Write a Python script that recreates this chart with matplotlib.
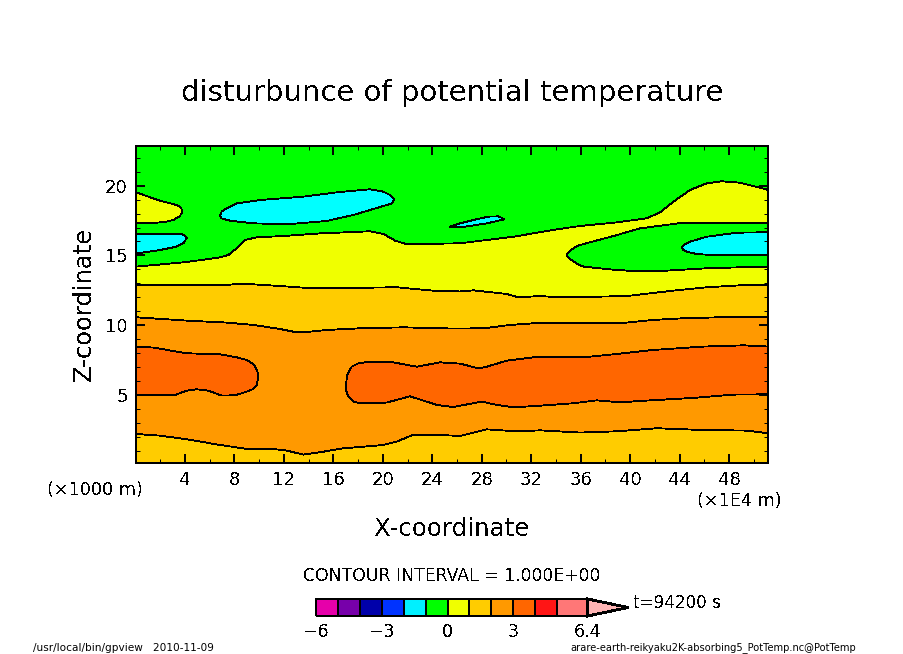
import matplotlib

matplotlib.use("Agg")
import matplotlib.pyplot as plt
from matplotlib.colors import BoundaryNorm, ListedColormap
import numpy as np

W, H = 904, 654

# contour outlines, x in 1E4 m / z in 1000 m
yellow_top_x = [0.04, 1.85, 4.14, 6.84, 7.51, 8.18, 8.86, 9.80, 11.96, 14.92, 17.62, 18.97, 20.04, 20.99, 21.93, 26.25, 27.33, 30.56, 34.07, 35.95, 38.92, 41.35, 42.42, 43.50, 44.85, 46.20, 47.41, 48.89, 51.19]
yellow_top_z = [14.20, 14.34, 14.53, 14.86, 15.03, 15.51, 16.11, 16.30, 16.39, 16.58, 16.68, 16.73, 16.54, 16.06, 15.80, 15.87, 15.99, 16.34, 16.87, 17.11, 17.37, 17.66, 18.09, 18.85, 19.69, 20.17, 20.31, 20.21, 19.69]

gold_top_x = [0.04, 7.10, 7.90, 9.53, 11.69, 14.38, 17.08, 21.12, 24.36, 26.25, 27.33, 30.02, 30.97, 32.72, 34.34, 37.57, 39.73, 43.50, 46.20, 48.89, 51.19]
gold_top_z = [12.86, 12.86, 12.93, 12.93, 12.81, 12.64, 12.67, 12.72, 12.45, 12.42, 12.50, 12.24, 12.00, 12.09, 12.00, 12.05, 12.09, 12.48, 12.72, 12.86, 12.91]

orange_top_x = [0.04, 4.14, 7.37, 9.53, 11.69, 13.03, 13.57, 15.46, 18.16, 21.66, 25.71, 28.13, 30.29, 32.18, 34.07, 39.19, 41.88, 44.31, 47.28, 51.19]
orange_top_z = [10.57, 10.33, 10.19, 10.02, 9.73, 9.49, 9.49, 9.66, 9.78, 9.85, 9.76, 9.78, 10.02, 10.14, 10.19, 10.14, 10.38, 10.50, 10.57, 10.57]

orange_bottom_x = [0.04, 1.98, 4.14, 6.84, 9.26, 10.88, 12.23, 13.57, 14.92, 16.81, 20.04, 21.12, 22.47, 24.36, 26.25, 28.40, 30.83, 32.72, 35.95, 38.92, 42.15, 45.66, 49.43, 51.19]
orange_bottom_z = [2.21, 2.09, 1.83, 1.42, 1.11, 1.16, 1.02, 0.73, 0.90, 1.18, 1.42, 1.66, 2.16, 2.14, 2.07, 2.54, 2.40, 2.47, 2.31, 2.40, 2.62, 2.50, 2.45, 2.26]

lobe_left_x = [0.04, 1.98, 3.33, 3.68, 3.79, 3.60, 3.06, 2.52, 1.17, 0.04]
lobe_left_z = [19.52, 18.92, 18.61, 18.42, 18.14, 17.83, 17.54, 17.42, 17.30, 17.30]

green_right_x = [51.19, 43.91, 40.81, 38.65, 35.95, 35.53, 35.05, 34.87, 35.13, 35.80, 36.22, 38.38, 40.54, 42.96, 46.20, 48.89, 51.19]
green_right_z = [17.30, 17.30, 16.94, 16.39, 15.75, 15.58, 15.27, 15.03, 14.74, 14.36, 14.20, 14.00, 13.86, 13.91, 14.08, 14.15, 14.20]

cyan_left_x = [0.04, 3.60, 4.00, 4.14, 3.92, 3.33, 1.98, 0.04]
cyan_left_z = [16.56, 16.56, 16.42, 16.25, 15.92, 15.63, 15.39, 15.13]

cyan_big_x = [6.84, 6.97, 7.37, 8.18, 10.07, 13.57, 16.27, 18.97, 20.04, 20.58, 20.93, 20.72, 20.31, 17.62, 15.46, 12.23, 9.53, 7.64, 6.92, 6.84]
cyan_big_z = [17.90, 18.14, 18.37, 18.73, 18.97, 19.21, 19.52, 19.74, 19.57, 19.33, 19.02, 18.73, 18.61, 17.90, 17.47, 17.23, 17.30, 17.49, 17.66, 17.90]

cyan_small_x = [25.39, 26.25, 27.33, 28.54, 29.35, 29.86, 28.40, 26.52, 25.39]
cyan_small_z = [17.06, 17.30, 17.54, 17.78, 17.80, 17.59, 17.30, 17.04, 17.06]

cyan_right_x = [51.19, 48.62, 46.20, 44.85, 44.45, 44.18, 44.31, 44.58, 45.39, 47.01, 51.19]
cyan_right_z = [16.66, 16.63, 16.34, 15.99, 15.82, 15.56, 15.39, 15.27, 15.10, 15.01, 15.01]

red_left_x = [0.04, 1.44, 4.14, 6.84, 8.18, 8.99, 9.53, 9.85, 9.93, 9.80, 9.53, 8.86, 8.05, 6.97, 5.89, 4.95, 4.14, 3.20, 0.04]
red_left_z = [8.47, 8.40, 7.99, 7.92, 7.70, 7.51, 7.23, 6.75, 6.27, 5.72, 5.43, 5.20, 4.98, 4.96, 5.31, 5.41, 5.31, 5.00, 4.98]

red_right_x = [17.03, 17.13, 17.48, 18.02, 18.56, 20.85, 22.74, 24.63, 26.25, 27.73, 28.40, 30.02, 32.18, 36.76, 38.92, 41.88, 45.93, 49.16, 51.19,
               51.19, 48.36, 45.39, 41.34, 39.19, 37.30, 35.41, 32.45, 30.56, 29.21, 28.00, 25.71, 24.36, 22.20, 20.31, 18.16, 17.62, 17.21, 17.03, 17.03]
red_right_z = [5.84, 6.44, 7.03, 7.27, 7.34, 7.34, 7.03, 7.34, 7.25, 6.91, 7.03, 7.46, 7.70, 7.75, 7.94, 8.23, 8.47, 8.56, 8.47,
               5.05, 5.03, 4.81, 4.60, 4.48, 4.62, 4.41, 4.22, 4.12, 4.29, 4.53, 4.14, 4.29, 4.91, 4.46, 4.41, 4.53, 4.88, 5.36, 5.84]

x_ticks = [4, 8, 12, 16, 20, 24, 28, 32, 36, 40, 44, 48]
z_ticks = [5, 10, 15, 20]

bar_levels = [-6, -5, -4, -3, -2, -1, 0, 1, 2, 3, 4, 5, 6.4]
bar_colors = ["#e600aa", "#7700aa", "#0000aa", "#0033ff", "#00f0ff", "#00ff00",
              "#f0ff00", "#ffcc00", "#ff9900", "#ff6600", "#ff1515", "#ff7777"]
bar_ticks = [-6, -3, 0, 3, 6.4]
bar_ticklabels = ["−6", "−3", "0", "3", "6.4"]

GREEN = "#00ff00"
YELLOW = "#f0ff00"
GOLD = "#ffcc00"
ORANGE = "#ff9900"
RED = "#ff6600"
CYAN = "#00ffff"

plt.rcParams["text.antialiased"] = False
plt.rcParams["lines.antialiased"] = False
plt.rcParams["patch.antialiased"] = False
plt.rcParams["font.family"] = "DejaVu Sans"


def px_text(fig, x, y, s, size, ha="center", va="center", **kw):
    """Puts text at a position given in image pixels."""
    fig.text(x / W, 1 - y / H, s, fontsize=size, ha=ha, va=va, **kw)


def band(ax, x, z, color):
    ax.fill_between(x, z, 0, color=color, lw=0)
    ax.plot(x, z, color="black", lw=0.6)


def island(ax, x, z, color):
    ax.fill(x, z, facecolor=color, edgecolor="black", lw=0.6)


fig = plt.figure(figsize=(W / 100, H / 100), dpi=100)
ax = fig.add_axes([136 / W, 1 - 463 / H, 632 / W, 317 / H])
ax.set_facecolor(GREEN)

band(ax, yellow_top_x, yellow_top_z, YELLOW)
band(ax, gold_top_x, gold_top_z, GOLD)
band(ax, orange_top_x, orange_top_z, ORANGE)
band(ax, orange_bottom_x, orange_bottom_z, GOLD)
island(ax, lobe_left_x, lobe_left_z, YELLOW)
island(ax, green_right_x, green_right_z, GREEN)
island(ax, cyan_left_x, cyan_left_z, CYAN)
island(ax, cyan_big_x, cyan_big_z, CYAN)
island(ax, cyan_small_x, cyan_small_z, CYAN)
island(ax, cyan_right_x, cyan_right_z, CYAN)
island(ax, red_left_x, red_left_z, RED)
island(ax, red_right_x, red_right_z, RED)

ax.set_xlim(0.04, 51.15)
ax.set_ylim(0.13, 22.84)
ax.set_xticks(x_ticks)
ax.set_yticks(z_ticks)
ax.set_xticks(np.arange(2, 52, 4), minor=True)
ax.set_yticks(np.arange(1, 23), minor=True)
ax.tick_params(which="major", direction="in", top=True, right=True, length=6.5,
               width=1.4, labelsize=13, pad=5.5)
ax.tick_params(axis="y", which="major", pad=6)
ax.tick_params(which="minor", direction="in", top=True, right=True, length=3.2, width=0.72)
for spine in ax.spines.values():
    spine.set_linewidth(1.44)

px_text(fig, 452.5, 93, "disturbunce of potential temperature", 21)
px_text(fig, 84, 304, "Z-coordinate", 17.4, rotation=90)
px_text(fig, 452, 529, "X-coordinate", 17.6)
px_text(fig, 95, 490, "(×1000 m)", 12.7)
px_text(fig, 739, 501, "(×1E4 m)", 12.7)
px_text(fig, 452, 576, "CONTOUR INTERVAL = 1.000E+00", 12.4)
px_text(fig, 633, 603, "t=94200 s", 12.1, ha="left")
# small text loses thin strokes without antialiasing
px_text(fig, 33, 648, "/usr/local/bin/gpview   2010-11-09", 7.6, ha="left", antialiased=True)
px_text(fig, 570, 648, "arare-earth-reikyaku2K-absorbing5_PotTemp.nc@PotTemp", 7.1, ha="left", antialiased=True)

# colour bar, the axes run on to the tip of the arrow
cax = fig.add_axes([316 / W, 1 - 616 / H, 312 / W, 17 / H])
norm = BoundaryNorm(bar_levels, len(bar_colors))
cax.pcolormesh(bar_levels, [0, 1], np.array([bar_levels[:-1]]), cmap=ListedColormap(bar_colors),
               norm=norm, edgecolors="black", linewidth=1.3, clip_on=False)
cax.fill([6.4, 8.23, 6.4], [1, 0.5, 0], facecolor="#ffb4b4", edgecolor="black", lw=1.3, clip_on=False)
cax.set_xlim(-6, 8.23)
cax.set_ylim(0, 1)
cax.axis("off")
for value, label in zip(bar_ticks, bar_ticklabels):
    cax.text(value, -0.95, label, fontsize=12.5, ha="center", va="center")

fig.savefig("out.png", dpi=100)
